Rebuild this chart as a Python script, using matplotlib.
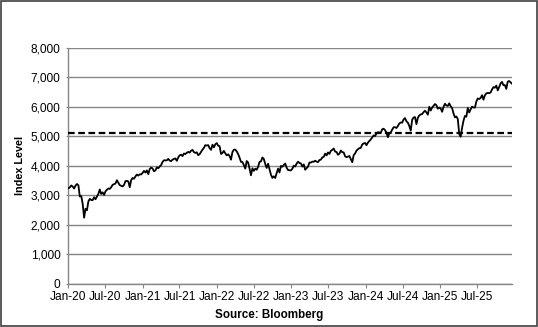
import pandas as pd
import matplotlib
matplotlib.use('Agg')
import matplotlib.pyplot as plt
import matplotlib.dates as mdates
from matplotlib.ticker import FuncFormatter
from matplotlib.patches import Rectangle

plt.rcParams['font.family'] = ['Liberation Sans', 'DejaVu Sans']

# weekly closes (Fridays)
y2020 = [3235, 3265, 3330, 3295, 3226,
         3328, 3380, 3338, 2954,
         2972, 2711, 2237, 2541,
         2489, 2790, 2875, 2837,
         2831, 2930, 2864, 2955, 3044,
         3194, 3041, 3098, 3009,
         3130, 3185, 3225, 3216, 3271,
         3351, 3373, 3397, 3508,
         3427, 3341, 3319, 3298,
         3348, 3477, 3484, 3465, 3270,
         3510, 3585, 3558, 3638,
         3699, 3663, 3709, 3703]
y2021 = [3756, 3825, 3768, 3841, 3714,
         3887, 3934, 3907, 3811,
         3842, 3943, 3913, 3975,
         4020, 4129, 4185, 4180, 4181,
         4233, 4174, 4156, 4204,
         4230, 4247, 4166, 4281,
         4352, 4370, 4327, 4412, 4395,
         4437, 4468, 4442, 4509,
         4535, 4459, 4433, 4455,
         4357, 4391, 4471, 4545, 4605,
         4697, 4683, 4698, 4595,
         4538, 4712, 4621, 4726, 4766]
y2022 = [4677, 4663, 4398, 4432,
         4501, 4419, 4349, 4385,
         4329, 4204, 4463, 4543,
         4546, 4488, 4393, 4272, 4132,
         4123, 4024, 3901, 4158,
         4109, 3901, 3675, 3912,
         3825, 3899, 3863, 3962, 4130,
         4145, 4280, 4228, 4058,
         3924, 4067, 3873, 3693, 3586,
         3640, 3583, 3752, 3901,
         3771, 3993, 3965, 4026,
         4072, 3934, 3852, 3845, 3840]
y2023 = [3895, 3999, 3973, 4070,
         4136, 4090, 4079, 3970,
         4046, 3862, 3917, 3971, 4109,
         4105, 4138, 4133, 4169,
         4136, 4124, 4192, 4205,
         4282, 4299, 4410, 4348, 4450,
         4399, 4505, 4536, 4582,
         4478, 4464, 4370, 4406,
         4515, 4457, 4450, 4320, 4288,
         4308, 4327, 4224, 4117,
         4358, 4415, 4514, 4559,
         4595, 4604, 4719, 4754, 4770]
y2024 = [4697, 4784, 4840, 4891,
         4959, 5027, 5006, 5089,
         5137, 5124, 5117, 5234, 5254,
         5204, 5123, 4967, 5100,
         5128, 5223, 5303, 5305, 5278,
         5347, 5431, 5465, 5460,
         5567, 5615, 5505, 5459,
         5346, 5190, 5554, 5634, 5648,
         5408, 5626, 5703, 5738,
         5751, 5815, 5864, 5808,
         5729, 5995, 5870, 5969, 6032,
         6090, 6051, 5931, 5971]
y2025 = [5942, 5827, 5997, 6101, 6041,
         6026, 6115, 6013, 5955,
         5770, 5639, 5668, 5581,
         5074, 4983, 5283, 5525,
         5687, 5660, 5958, 5803, 5912,
         6000, 5977, 5968, 6173,
         6280, 6260, 6297, 6389,
         6238, 6389, 6450, 6467, 6460,
         6482, 6584, 6664, 6644,
         6716, 6553, 6664, 6792, 6840,
         6729, 6734, 6603, 6849,
         6870, 6827, 6780]

values = y2020 + y2021 + y2022 + y2023 + y2024 + y2025
dates = pd.date_range('2020-01-03', periods=len(values), freq='W-FRI')
ref_level = 5110

fig = plt.figure(figsize=(5.38, 3.27), dpi=100)
ax = fig.add_axes([68 / 538, 1 - 283.7 / 327, (512 - 68) / 538, (283.7 - 47.7) / 327])

grid_col = '#868686'
ax.plot(dates, values, color='black', lw=1.3, zorder=3)
ax.axhline(ref_level, color='black', lw=1.6, ls=(0, (3, 1.6)), zorder=4)

ax.set_ylim(0, 8000)
ax.set_yticks(range(0, 8001, 1000))
ax.yaxis.set_major_formatter(FuncFormatter(lambda v, p: f'{int(v):,}'))
ax.set_xlim(pd.Timestamp('2020-01-01'), pd.Timestamp('2025-12-19'))
ax.xaxis.set_major_locator(mdates.MonthLocator(bymonth=[1, 7]))
ax.xaxis.set_major_formatter(mdates.DateFormatter('%b-%y'))

ax.grid(axis='y', color=grid_col, lw=1.0)
ax.set_axisbelow(True)
for s in ['top', 'right']:
    ax.spines[s].set_visible(False)
for s in ['left', 'bottom']:
    ax.spines[s].set_color(grid_col)
    ax.spines[s].set_linewidth(1.0)
ax.tick_params(axis='x', direction='out', length=3, color=grid_col, labelsize=8.6, pad=2)
ax.tick_params(axis='y', direction='out', length=1.5, color=grid_col, labelsize=8.6, pad=4)

fig.text(20 / 538, 1 - 165.7 / 327, 'Index Level', rotation=90, ha='center', va='center',
         fontsize=7.8, fontweight='bold')
fig.text(0.5, 1 - 315 / 327, 'Source: Bloomberg', ha='center', va='center',
         fontsize=8.4, fontweight='bold')

fig.patches.append(Rectangle((0.001, 0.002), 0.997, 0.996, transform=fig.transFigure,
                             fill=False, edgecolor='#404040', lw=1.2))

fig.savefig('out.png', dpi=100)
